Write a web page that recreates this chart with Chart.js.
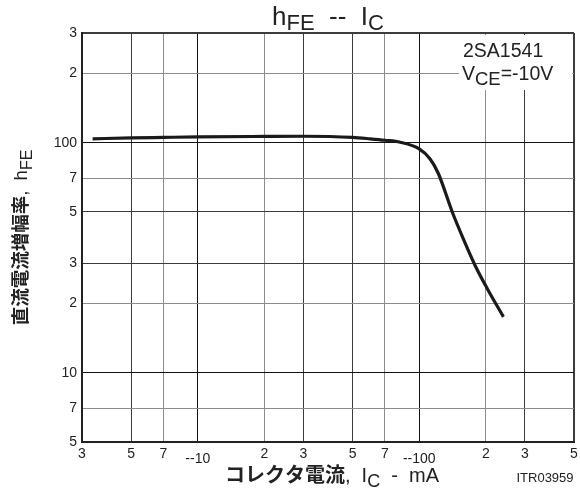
<!DOCTYPE html>
<html>
<head>
<meta charset="utf-8">
<script src="https://cdn.jsdelivr.net/npm/chart.js@4/dist/chart.umd.min.js"></script>
<style>
  html, body { margin: 0; padding: 0; background: #fff; }
  #wrap { width: 580px; height: 490px; position: relative; }
</style>
</head>
<body>
<div id="wrap"><canvas id="c"></canvas></div>
<script>
// hFE vs IC curve (IC shown as magnitude, mA)
const ic  = [3.35, 5, 7, 10, 20, 30, 50, 60, 70, 82, 100, 112, 122, 141, 158, 179, 203, 240];
const hfe = [104, 105, 105.5, 106, 106.5, 106.7, 105.5, 104, 102.5, 100.5, 94, 85, 73.5, 50, 38.3, 29.2, 23.2, 17.5];

const xTicks  = [3, 5, 7, 10, 20, 30, 50, 70, 100, 200, 300, 500];
const xLabels = ['3', '5', '7', '--10', '2', '3', '5', '7', '--100', '2', '3', '5'];
const yTicks  = [5, 7, 10, 20, 30, 50, 70, 100, 200, 300];
const yLabels = ['5', '7', '10', '2', '3', '5', '7', '100', '2', '3'];

const LAT = '"Liberation Sans", Arial, sans-serif';
const CJK = '"Noto Sans CJK JP", sans-serif';

function mant(v) {
  return Math.round(v / Math.pow(10, Math.floor(Math.log10(v) + 1e-9)));
}
function gridColor(ctx) {
  const v = ctx.tick && ctx.tick.value;
  const m = mant(v);
  if (m === 1) return '#111';
  if (m === 2 || m === 7) return '#8c8c8c';
  return '#3c3c3c';
}

// draw a row of text pieces: [text, font, dy]
function runs(c, x, y, parts, align) {
  let w = 0;
  parts.forEach(p => { c.font = p[1]; w += c.measureText(p[0]).width; });
  let cx = align === 'center' ? x - w / 2 : x;
  c.textAlign = 'left';
  c.textBaseline = 'alphabetic';
  parts.forEach(p => {
    c.font = p[1];
    c.fillText(p[0], cx, y + p[2]);
    cx += c.measureText(p[0]).width;
  });
}

const textPlugin = {
  id: 'texts',
  beforeDatasetsDraw(chart) {
    const c = chart.ctx;
    c.save();
    c.fillStyle = '#fff';
    c.fillRect(459, 35, 113, 55);
    c.restore();
  },
  afterDraw(chart) {
    const c = chart.ctx;
    const xs = chart.scales.x, ys = chart.scales.y;
    const a = chart.chartArea;
    c.save();
    c.fillStyle = '#222';

    // y tick labels
    c.font = '14px ' + LAT;
    c.textAlign = 'right';
    c.textBaseline = 'middle';
    yTicks.forEach((v, i) => c.fillText(yLabels[i], a.left - 5, ys.getPixelForValue(v)));

    // x tick labels, decade labels sit a little lower
    c.textAlign = 'center';
    c.textBaseline = 'top';
    xTicks.forEach((v, i) => {
      const dec = xLabels[i].startsWith('--');
      c.fillText(xLabels[i], xs.getPixelForValue(v), a.bottom + (dec ? 10 : 5));
    });

    // title
    const mid = (a.left + a.right) / 2;
    runs(c, mid, 25, [
      ['h', '26px ' + LAT, 0], ['FE', '22px ' + LAT, 5],
      ['  --  ', '26px ' + LAT, 0],
      ['I', '26px ' + LAT, 0], ['C', '22px ' + LAT, 5]
    ], 'center');

    // device note
    runs(c, 463, 57, [['2SA1541', '19.5px ' + LAT, 0]], 'left');
    runs(c, 462, 80, [['V', '19.5px ' + LAT, 0], ['CE', '18.5px ' + LAT, 5], ['=-10V', '19.5px ' + LAT, 0]], 'left');

    // x axis title
    runs(c, 332, 482, [
      ['コレクタ電流', 'bold 20px ' + CJK, 0],
      [',  I', '20px ' + LAT, 0], ['C', '18px ' + LAT, 5],
      ['  -  mA', '20px ' + LAT, 0]
    ], 'center');

    runs(c, 545, 482, [['ITR03959', '13px ' + LAT, 0]], 'center');

    // y axis title
    c.translate(27, (a.top + a.bottom) / 2);
    c.rotate(-Math.PI / 2);
    runs(c, 0, 0, [
      ['直流電流増幅率', 'bold 18.5px ' + CJK, 0],
      [',  h', '18.5px ' + LAT, 0], ['FE', '16px ' + LAT, 5]
    ], 'center');
    c.restore();
  }
};

new Chart(document.getElementById('c'), {
  type: 'line',
  data: {
    datasets: [{
      data: ic.map((v, i) => ({ x: v, y: hfe[i] })),
      borderColor: '#1a1a1a',
      borderWidth: 3.2,
      pointRadius: 0,
      cubicInterpolationMode: 'monotone',
      fill: false
    }]
  },
  options: {
    responsive: true,
    maintainAspectRatio: false,
    animation: false,
    layout: { padding: { left: 82, right: 6, top: 33, bottom: 48 } },
    plugins: { legend: { display: false }, tooltip: { enabled: false } },
    scales: {
      x: {
        type: 'logarithmic',
        min: 3, max: 500,
        afterBuildTicks: s => { s.ticks = xTicks.map(v => ({ value: v })); },
        ticks: { display: false },
        grid: {
          color: gridColor,
          lineWidth: ctx => (ctx.tick && ctx.tick.value === 500 ? 2 : 1),
          drawTicks: false
        },
        border: { color: '#222', width: 2 }
      },
      y: {
        type: 'logarithmic',
        min: 5, max: 300,
        afterBuildTicks: s => { s.ticks = yTicks.map(v => ({ value: v })); },
        ticks: { display: false },
        grid: {
          color: gridColor,
          lineWidth: ctx => (ctx.tick && ctx.tick.value === 300 ? 2 : 1),
          drawTicks: false
        },
        border: { color: '#222', width: 2 }
      }
    }
  },
  plugins: [textPlugin]
});
</script>
</body>
</html>
